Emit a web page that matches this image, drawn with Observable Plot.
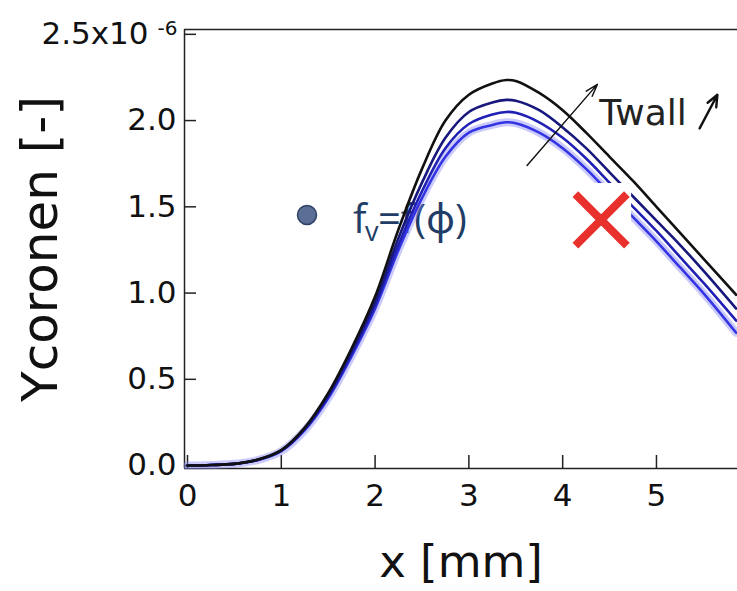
<!DOCTYPE html>
<html><head><meta charset="utf-8">
<script src="https://cdn.jsdelivr.net/npm/d3@7"></script>
<script src="https://cdn.jsdelivr.net/npm/@observablehq/plot@0.6"></script>
<style>
body{margin:0;background:#fff;}
#chart svg{display:block;background:#fff;}
</style></head><body><div id="chart"></div>
<script>
// x positions [mm]
const xPositions = [0, 0.25, 0.5, 0.75, 1, 1.25, 1.5, 1.75, 2, 2.25, 2.5, 2.75, 3, 3.25, 3.4, 3.5, 3.75, 4, 4.25, 4.5, 4.75, 5, 5.25, 5.5, 5.85];
// Ycoronen values, units of 1e-6
const blackSeries = [0, 0.003, 0.01, 0.035, 0.09, 0.22, 0.42, 0.68, 0.98, 1.37, 1.72, 2.0, 2.15, 2.215, 2.235, 2.23, 2.16, 2.06, 1.93, 1.79, 1.65, 1.5, 1.35, 1.2, 0.99];
const blue1Series = [0, 0.003, 0.01, 0.034, 0.088, 0.215, 0.41, 0.665, 0.95, 1.32, 1.64, 1.9, 2.05, 2.105, 2.12, 2.115, 2.06, 1.96, 1.84, 1.7, 1.56, 1.42, 1.28, 1.13, 0.91];
const blue2Series = [0, 0.003, 0.01, 0.033, 0.086, 0.21, 0.4, 0.65, 0.93, 1.28, 1.59, 1.84, 1.98, 2.035, 2.05, 2.045, 1.99, 1.9, 1.78, 1.64, 1.5, 1.36, 1.21, 1.06, 0.84];
const blue3Series = [0, 0.003, 0.01, 0.032, 0.084, 0.205, 0.39, 0.635, 0.91, 1.25, 1.55, 1.79, 1.93, 1.975, 1.99, 1.985, 1.93, 1.84, 1.72, 1.58, 1.44, 1.3, 1.15, 1.0, 0.77];

const xTicks = [0, 1, 2, 3, 4, 5];
const yTicks = [0, 0.5, 1.0, 1.5, 2.0];
const yTopTick = [2.5];
const yTopLabel = "2.5x10";
const yExponent = "-6";
const xLabel = "x [mm]";
const yLabel = "Ycoronen [-]";

// annotations
const twallArrow = [{x1: 3.62, y1: 1.74, x2: 4.37, y2: 2.21}];
const twallLabel = [{x: 4.39, y: 2.04, text: "Twall"}];
const smallArrow = [{x1: 5.46, y1: 1.955, x2: 5.65, y2: 2.15}];
const bulletPoint = [{x: 1.274, y: 1.453}];
const crossBox = [{x1: 3.9, x2: 4.735, y1: 1.22, y2: 1.635}];
const crossMark = [{x: 4.41, y: 1.424}];

const xDomain = [-0.032, 5.864];
const yDomain = [-0.017, 2.528];

const toRows = (vals) => xPositions.map((x, i) => ({x, y: vals[i]}));
const curve = "catmull-rom";
const W = 737, H = 591, mL = 184, mR = 0, mT = 29, mB = 123;
const innerW = W - mL - mR, innerH = H - mT - mB;
const font = "DejaVu Sans, sans-serif";
const slideFont = "Open Sans, Noto Sans, DejaVu Sans, sans-serif";

const chart = Plot.plot({
  width: W, height: H,
  marginLeft: mL, marginRight: mR, marginTop: mT, marginBottom: mB,
  x: {domain: xDomain},
  y: {domain: yDomain},
  style: {fontFamily: font, color: "#111", background: "#fff"},
  marks: [
    // frame lines
    Plot.ruleY([yDomain[1]], {stroke: "#222", strokeWidth: 1.5}),
    Plot.ruleY([yDomain[0]], {stroke: "#222", strokeWidth: 1.5}),
    Plot.ruleX([xDomain[0]], {stroke: "#222", strokeWidth: 1.5}),
    // inward ticks
    Plot.ruleX(xTicks, {x: d => d, insetTop: innerH - 13, stroke: "#222", strokeWidth: 1.5}),
    Plot.ruleY(yTicks.concat(yTopTick), {y: d => d, insetRight: innerW - 12, stroke: "#222", strokeWidth: 1.5}),
    // tick labels
    Plot.axisX(xTicks, {tickSize: 0, tickPadding: 15, fontSize: 31, fontFamily: font, label: null, tickFormat: d => String(d)}),
    Plot.axisY(yTicks, {tickSize: 0, tickPadding: 8, fontSize: 31, fontFamily: font, label: null, tickFormat: d => d.toFixed(1)}),
    Plot.axisY(yTopTick, {tickSize: 0, tickPadding: 36, fontSize: 31, fontFamily: font, label: null, tickFormat: () => yTopLabel}),
    Plot.text([yExponent], {frameAnchor: "top-left", textAnchor: "middle", dx: -17, dy: -9, fontSize: 20, fontFamily: font, fill: "#111"}),
    // axis labels
    Plot.text([xLabel], {frameAnchor: "bottom", textAnchor: "middle", dy: 108, fontSize: 45, fontFamily: font, fill: "#111"}),
    Plot.text([yLabel], {frameAnchor: "left", textAnchor: "middle", rotate: -90, dx: -144, fontSize: 50, fontFamily: font, fill: "#111"}),
    // bullet annotation (beneath the curves)
    Plot.dot(bulletPoint, {x: "x", y: "y", r: 9.5, fill: "#5b6e95", stroke: "#2f4366", strokeWidth: 1.5}),
    Plot.text(bulletPoint, {x: "x", y: "y", text: () => "f", textAnchor: "start", dx: 46, dy: 5, fontSize: 40, fontFamily: slideFont, fill: "#1f3d66"}),
    Plot.text(bulletPoint, {x: "x", y: "y", text: () => "v", textAnchor: "start", dx: 58, dy: 17, fontSize: 27, fontFamily: slideFont, fill: "#1f3d66"}),
    Plot.text(bulletPoint, {x: "x", y: "y", text: () => "=f(\u03d5)", textAnchor: "start", dx: 71, dy: 5, fontSize: 40, fontFamily: slideFont, fill: "#1f3d66"}),
    // curves
    Plot.line(toRows(blue3Series), {x: "x", y: "y", stroke: "#8c8cf6", strokeWidth: 8, strokeOpacity: 0.45, curve}),
    Plot.line(toRows(blue3Series), {x: "x", y: "y", stroke: "#3434e4", strokeWidth: 2.6, curve}),
    Plot.line(toRows(blue2Series), {x: "x", y: "y", stroke: "#2020b4", strokeWidth: 2.6, curve}),
    Plot.line(toRows(blue1Series), {x: "x", y: "y", stroke: "#17177c", strokeWidth: 2.6, curve}),
    Plot.line(toRows(blackSeries), {x: "x", y: "y", stroke: "#111", strokeWidth: 2.6, curve}),
    // Twall annotation
    Plot.arrow(twallArrow, {x1: "x1", y1: "y1", x2: "x2", y2: "y2", stroke: "#111", strokeWidth: 1.4, headLength: 14, headAngle: 35}),
    Plot.text(twallLabel, {x: "x", y: "y", text: "text", textAnchor: "start", fontSize: 36, fontFamily: font, fill: "#222"}),
    Plot.arrow(smallArrow, {x1: "x1", y1: "y1", x2: "x2", y2: "y2", stroke: "#111", strokeWidth: 2.4, headLength: 10, headAngle: 45}),
    // crossed-out box
    Plot.rect(crossBox, {x1: "x1", x2: "x2", y1: "y1", y2: "y2", fill: "#fff"}),
    Plot.dot(crossMark, {x: "x", y: "y", symbol: "times", r: 23.5, stroke: "#e8312d", strokeWidth: 8, strokeLinecap: "butt"})
  ]
});
document.getElementById("chart").appendChild(chart);
</script>
</body></html>
